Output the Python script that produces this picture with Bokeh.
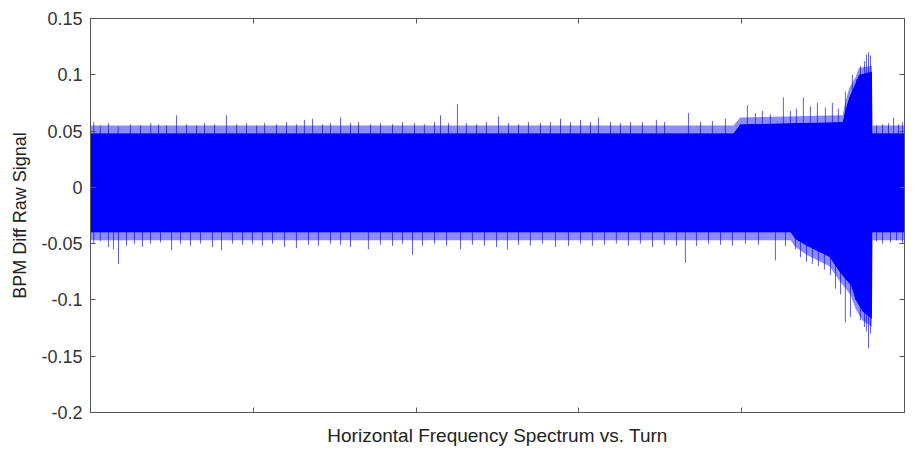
from bokeh.plotting import figure
from bokeh.models import LinearAxis, FixedTicker, Range1d, CustomJSTickFormatter
from bokeh.embed import file_html
from bokeh.resources import INLINE

# ---- data (turn index, signal value) ----
core_hi_turn = [0, 3950, 3990, 4620, 4635, 4660, 4700, 4720, 4800, 4803, 5000]
core_hi_val = [0.048, 0.048, 0.056, 0.058, 0.068, 0.080, 0.093, 0.100, 0.103, 0.048, 0.048]
fringe_hi_val = [0.055, 0.055, 0.062, 0.064, 0.075, 0.088, 0.098, 0.106, 0.108, 0.055, 0.055]

core_lo_turn = [0, 4300, 4330, 4400, 4540, 4600, 4640, 4670, 4700, 4740, 4800, 4803, 5000]
core_lo_val = [-0.040, -0.040, -0.046, -0.052, -0.062, -0.075, -0.082, -0.087, -0.100, -0.110, -0.117, -0.040, -0.040]
fringe_lo_val = [-0.047, -0.047, -0.053, -0.060, -0.070, -0.083, -0.090, -0.096, -0.108, -0.118, -0.124, -0.047, -0.047]

up_spike_turn = [20, 60, 110, 170, 245, 307, 370, 418, 467, 528, 590, 651, 700, 762, 835, 897, 958,
                 1020, 1069, 1142, 1204, 1265, 1314, 1364, 1425, 1474, 1536, 1597, 1646, 1720, 1781,
                 1855, 1916, 1990, 2051, 2113, 2150, 2199, 2254, 2309, 2371, 2432, 2506, 2567, 2629,
                 2690, 2764, 2825, 2887, 2948, 3010, 3071, 3120, 3194, 3255, 3317, 3390, 3476, 3526,
                 3673, 3747, 3820, 3900, 4035, 4084, 4127, 4176, 4256, 4299, 4336, 4379, 4422, 4465,
                 4514, 4557, 4594, 4637, 4680, 4705, 4729, 4754, 4766, 4779, 4791, 4828, 4865, 4902,
                 4933, 4963, 4988]
up_spike_val = [0.058, 0.055, 0.057, 0.054, 0.056, 0.055, 0.057, 0.056, 0.055, 0.064, 0.056, 0.055,
                0.057, 0.056, 0.064, 0.056, 0.057, 0.055, 0.057, 0.056, 0.058, 0.056, 0.060, 0.061,
                0.056, 0.057, 0.062, 0.057, 0.058, 0.056, 0.057, 0.056, 0.058, 0.057, 0.056, 0.058,
                0.064, 0.057, 0.074, 0.057, 0.056, 0.058, 0.063, 0.057, 0.056, 0.058, 0.057, 0.058,
                0.061, 0.058, 0.060, 0.058, 0.062, 0.058, 0.057, 0.058, 0.058, 0.060, 0.058, 0.066,
                0.058, 0.059, 0.061, 0.073, 0.066, 0.068, 0.065, 0.080, 0.068, 0.070, 0.080, 0.072,
                0.075, 0.071, 0.075, 0.070, 0.085, 0.100, 0.096, 0.108, 0.112, 0.118, 0.120, 0.117,
                0.055, 0.056, 0.057, 0.062, 0.056, 0.058]

lo_spike_turn = [20, 60, 110, 141, 172, 221, 270, 319, 369, 430, 498, 553, 614, 676, 749, 805, 872,
                 934, 995, 1056, 1118, 1192, 1265, 1339, 1400, 1474, 1536, 1597, 1707, 1781, 1855,
                 1916, 1978, 2039, 2113, 2187, 2273, 2346, 2420, 2494, 2561, 2629, 2702, 2776, 2856,
                 2936, 3010, 3083, 3157, 3230, 3304, 3378, 3452, 3525, 3599, 3654, 3722, 3796, 3870,
                 3943, 4023, 4103, 4207, 4269, 4330, 4361, 4398, 4434, 4471, 4508, 4545, 4576, 4607,
                 4637, 4668, 4698, 4729, 4754, 4766, 4779, 4791, 4828, 4865, 4914, 4951, 4988]
lo_spike_val = [-0.050, -0.048, -0.053, -0.055, -0.068, -0.052, -0.050, -0.053, -0.050, -0.049,
                -0.056, -0.050, -0.052, -0.050, -0.053, -0.056, -0.050, -0.051, -0.050, -0.052,
                -0.050, -0.053, -0.054, -0.051, -0.052, -0.050, -0.051, -0.053, -0.055, -0.051,
                -0.052, -0.050, -0.060, -0.052, -0.050, -0.052, -0.055, -0.051, -0.052, -0.053,
                -0.055, -0.051, -0.052, -0.050, -0.053, -0.052, -0.050, -0.052, -0.051, -0.050,
                -0.052, -0.050, -0.053, -0.051, -0.052, -0.067, -0.052, -0.050, -0.051, -0.052,
                -0.050, -0.051, -0.065, -0.052, -0.055, -0.062, -0.066, -0.068, -0.070, -0.073,
                -0.078, -0.090, -0.095, -0.120, -0.115, -0.100, -0.118, -0.124, -0.128, -0.143,
                -0.130, -0.048, -0.050, -0.049, -0.047, -0.050]

y_ticks = [-0.2, -0.15, -0.1, -0.05, 0, 0.05, 0.1, 0.15]
y_tick_labels = ["-0.2", "-0.15", "-0.1", "-0.05", "0", "0.05", "0.1", "0.15"]
x_ticks = [0, 1000, 2000, 3000, 4000, 5000]

BLUE = "#0000ff"
FONT = "Liberation Sans"
AXC = "#555555"

p = figure(width=922, height=450, output_backend="svg", toolbar_location=None,
           x_range=Range1d(0, 5000), y_range=Range1d(-0.2, 0.15),
           min_border_left=90, min_border_right=18, min_border_top=18, min_border_bottom=38)
p.background_fill_color = "white"
p.border_fill_color = "white"
p.grid.visible = False
p.outline_line_color = AXC
p.outline_line_width = 1

# core band (upper part overlaps lower part to avoid a seam) and fringes
p.varea(x=core_hi_turn, y1=[-0.02] * len(core_hi_turn), y2=core_hi_val, fill_color=BLUE)
p.varea(x=core_lo_turn, y1=core_lo_val, y2=[0] * len(core_lo_turn), fill_color=BLUE)
p.varea(x=core_hi_turn, y1=core_hi_val, y2=fringe_hi_val, fill_color=BLUE, fill_alpha=0.45)
p.varea(x=core_lo_turn, y1=fringe_lo_val, y2=core_lo_val, fill_color=BLUE, fill_alpha=0.45)
# spikes
p.segment(x0=up_spike_turn, y0=[0] * len(up_spike_turn), x1=up_spike_turn, y1=up_spike_val,
          line_color=BLUE, line_width=1, line_alpha=0.65)
p.segment(x0=lo_spike_turn, y0=[0] * len(lo_spike_turn), x1=lo_spike_turn, y1=lo_spike_val,
          line_color=BLUE, line_width=1, line_alpha=0.65)

blank = CustomJSTickFormatter(code="return ''")

# left axis
ya = p.yaxis[0]
ya.ticker = FixedTicker(ticks=y_ticks)
ya.major_label_overrides = {t: s for t, s in zip(y_ticks, y_tick_labels)}
ya.axis_label = "BPM Diff Raw Signal"
# bottom axis
xa = p.xaxis[0]
xa.ticker = FixedTicker(ticks=x_ticks)
xa.formatter = blank
xa.axis_label = "Horizontal Frequency Spectrum vs. Turn"

ra = LinearAxis(ticker=FixedTicker(ticks=y_ticks), formatter=blank)
ta = LinearAxis(ticker=FixedTicker(ticks=x_ticks), formatter=blank)
p.add_layout(ra, "right")
p.add_layout(ta, "above")

for ax in [ya, xa, ra, ta]:
    ax.major_tick_in = 5
    ax.major_tick_out = 0
    ax.minor_tick_line_color = None
    ax.axis_line_color = AXC
    ax.major_tick_line_color = AXC
    ax.major_label_text_font = FONT
    ax.major_label_text_font_size = "18px"
    ax.major_label_text_color = "#333333"
    ax.axis_label_text_font = FONT
    ax.axis_label_text_font_style = "normal"
    ax.axis_label_text_font_size = "19px"
    ax.axis_label_text_color = "#222222"

ya.axis_label_text_font_size = "18px"
ya.major_label_standoff = 8
ya.axis_label_standoff = 8
xa.axis_label_standoff = 12
xa.major_label_standoff = 0
ra.major_label_standoff = 0
ta.major_label_standoff = 0

open("out.html", "w").write(file_html(p, INLINE))
